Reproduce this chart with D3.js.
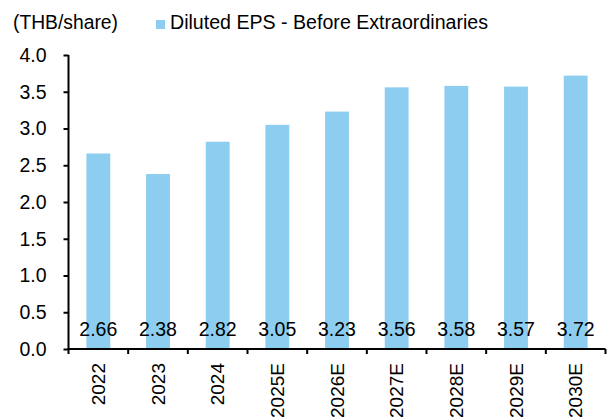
<!DOCTYPE html>
<html>
<head>
<meta charset="utf-8">
<script src="https://cdn.jsdelivr.net/npm/d3@7"></script>
<style>
  html, body { margin: 0; padding: 0; background: #fff; }
  svg { display: block; font-family: "Liberation Sans", Arial, sans-serif; }
</style>
</head>
<body>
<svg id="chart" width="609" height="419"></svg>
<script>
// Diluted EPS before extraordinaries, THB per share
const years = ["2022", "2023", "2024", "2025E", "2026E", "2027E", "2028E", "2029E", "2030E"];
const eps = [2.66, 2.38, 2.82, 3.05, 3.23, 3.56, 3.58, 3.57, 3.72];
const yTicks = [0, 0.5, 1.0, 1.5, 2.0, 2.5, 3.0, 3.5, 4.0];
const unitLabel = "(THB/share)";
const seriesName = "Diluted EPS - Before Extraordinaries";

const barColor = "#8DCEF0";
const svg = d3.select("#chart");

const plotLeft = 68.5, plotRight = 605.5, plotTop = 55, plotBottom = 349;

const x = d3.scaleBand().domain(years).range([plotLeft, plotRight]).paddingInner(0.6).paddingOuter(0.3);
const y = d3.scaleLinear().domain([0, 4]).range([plotBottom, plotTop]);

// bars
svg.append("g").selectAll("rect")
  .data(years.map((yr, i) => ({ yr, v: eps[i] })))
  .join("rect")
  .attr("x", d => x(d.yr))
  .attr("width", x.bandwidth())
  .attr("y", d => y(d.v))
  .attr("height", d => y(0) - y(d.v))
  .attr("fill", barColor);

// y axis
const yAxis = svg.append("g")
  .attr("transform", `translate(${plotLeft},0)`)
  .call(d3.axisLeft(y).tickValues(yTicks).tickFormat(d3.format(".1f")).tickSize(5).tickPadding(17));
yAxis.select(".domain").attr("d", `M0,${plotTop}V${plotBottom}`);

// x axis: ticks at category boundaries
const step = x.step();
const boundaries = d3.range(years.length + 1).map(i => plotLeft + i * step);
const xAxis = svg.append("g");
xAxis.append("line")
  .attr("x1", plotLeft - 1).attr("x2", plotRight)
  .attr("y1", plotBottom).attr("y2", plotBottom)
  .attr("stroke", "#000").attr("stroke-width", 2);
xAxis.selectAll("line.tick")
  .data(boundaries)
  .join("line")
  .attr("class", "tick")
  .attr("x1", d => d).attr("x2", d => d)
  .attr("y1", plotBottom).attr("y2", plotBottom + 5)
  .attr("stroke", "#000").attr("stroke-width", 2);

xAxis.selectAll("text")
  .data(years)
  .join("text")
  .attr("transform", d => `translate(${x(d) + x.bandwidth() / 2},363) rotate(-90)`)
  .attr("text-anchor", "end")
  .attr("dy", "0.35em")
  .attr("font-size", 19)
  .attr("fill", "#000")
  .text(d => d);

yAxis.selectAll(".domain, .tick line").attr("stroke", "#000").attr("stroke-width", 2);
yAxis.selectAll(".tick text").attr("font-size", 19.5).attr("fill", "#000")
  .attr("font-family", "'Liberation Sans', Arial, sans-serif");

// value labels near the base of each bar
svg.append("g").selectAll("text")
  .data(years.map((yr, i) => ({ yr, v: eps[i] })))
  .join("text")
  .attr("x", d => x(d.yr) + x.bandwidth() / 2)
  .attr("y", 336)
  .attr("text-anchor", "middle")
  .attr("font-size", 19.5)
  .attr("fill", "#000")
  .text(d => d3.format(".2f")(d.v));

// unit label and legend
svg.append("text")
  .attr("x", 13).attr("y", 29)
  .attr("font-size", 19.3)
  .attr("fill", "#000")
  .text(unitLabel);

svg.append("rect")
  .attr("x", 156).attr("y", 20).attr("width", 9).attr("height", 9)
  .attr("fill", barColor);
svg.append("text")
  .attr("x", 170).attr("y", 29)
  .attr("font-size", 19.6)
  .attr("fill", "#000")
  .text(seriesName);
</script>
</body>
</html>
